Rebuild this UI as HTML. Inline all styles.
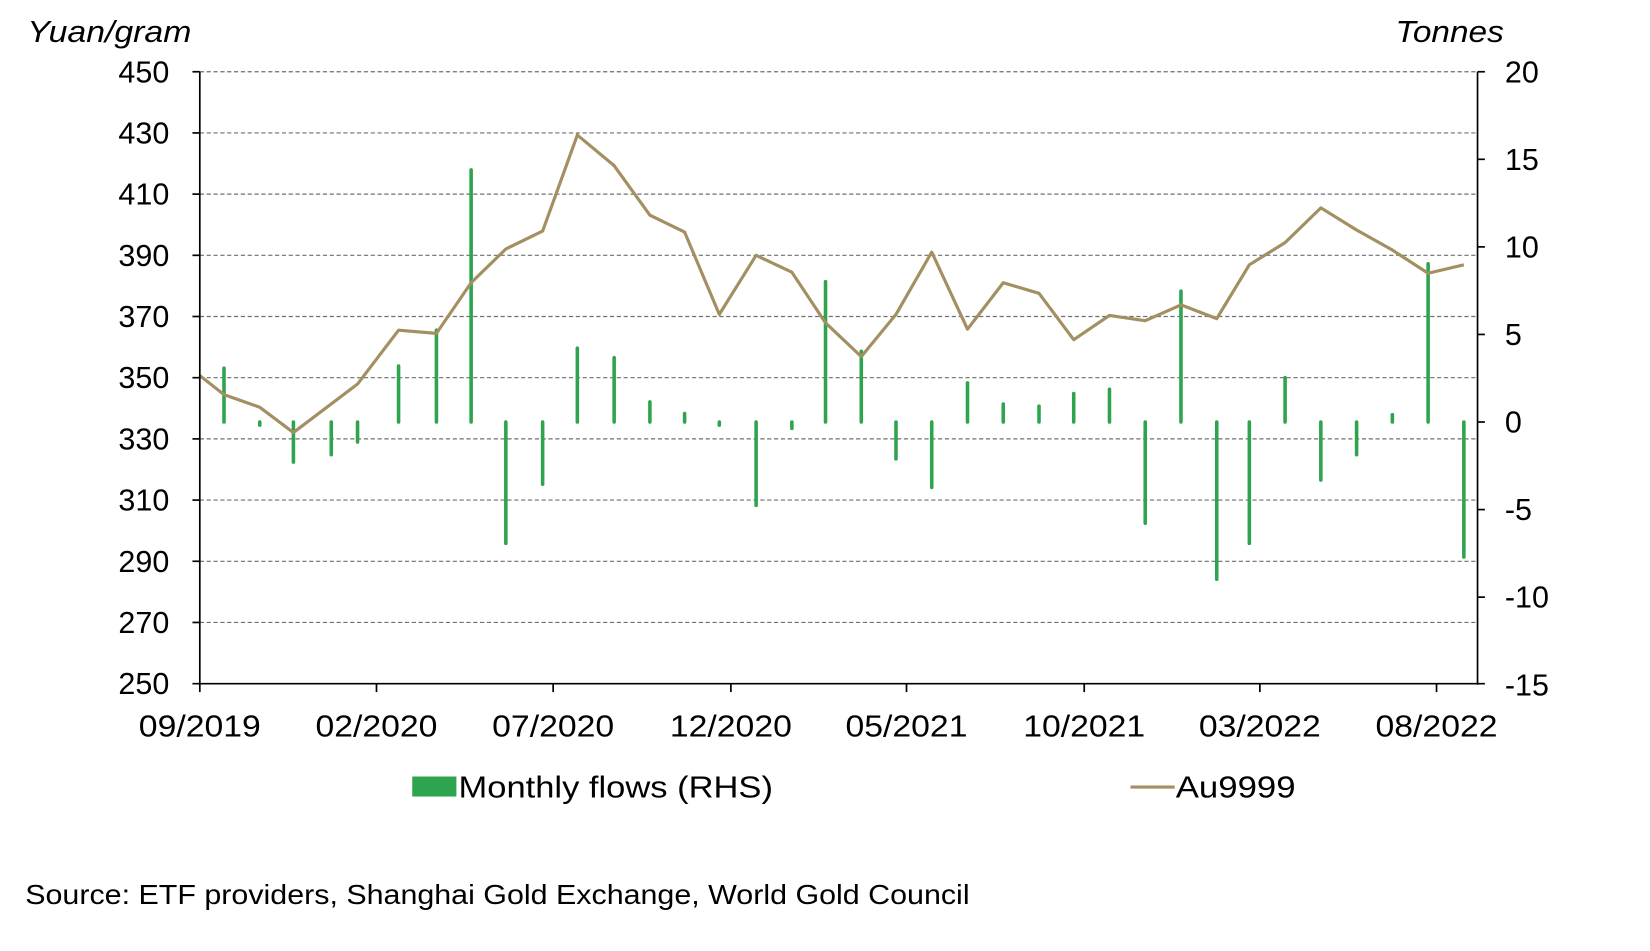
<!DOCTYPE html>
<html><head><meta charset="utf-8"><style>
html,body{margin:0;padding:0;background:#fff;}
svg{display:block;}
text{font-family:"Liberation Sans",Arial,sans-serif;fill:#000;}
</style></head><body>
<svg width="1650" height="951" viewBox="0 0 1569 901.4" preserveAspectRatio="none" xmlns="http://www.w3.org/2000/svg">
<g stroke="#6f6f6f" stroke-width="1.1" stroke-dasharray="4,2.5">
<line x1="190" y1="68" x2="1405" y2="68"/>
<line x1="190" y1="126" x2="1405" y2="126"/>
<line x1="190" y1="184" x2="1405" y2="184"/>
<line x1="190" y1="242" x2="1405" y2="242"/>
<line x1="190" y1="300" x2="1405" y2="300"/>
<line x1="190" y1="358" x2="1405" y2="358"/>
<line x1="190" y1="416" x2="1405" y2="416"/>
<line x1="190" y1="474" x2="1405" y2="474"/>
<line x1="190" y1="532" x2="1405" y2="532"/>
<line x1="190" y1="590" x2="1405" y2="590"/>
</g>
<g stroke="#2ea44f" stroke-width="3.4" stroke-linecap="round">
<line x1="213" y1="400" x2="213" y2="349"/>
<line x1="247" y1="400" x2="247" y2="403"/>
<line x1="279" y1="400" x2="279" y2="438"/>
<line x1="315" y1="400" x2="315" y2="431"/>
<line x1="340" y1="400" x2="340" y2="419"/>
<line x1="379" y1="400" x2="379" y2="347"/>
<line x1="415" y1="400" x2="415" y2="313"/>
<line x1="448" y1="400" x2="448" y2="161"/>
<line x1="481" y1="400" x2="481" y2="515"/>
<line x1="516" y1="400" x2="516" y2="459"/>
<line x1="549" y1="400" x2="549" y2="330"/>
<line x1="584" y1="400" x2="584" y2="339"/>
<line x1="618" y1="400" x2="618" y2="381"/>
<line x1="651" y1="400" x2="651" y2="392"/>
<line x1="684" y1="400" x2="684" y2="403"/>
<line x1="719" y1="400" x2="719" y2="479"/>
<line x1="753" y1="400" x2="753" y2="406"/>
<line x1="785" y1="400" x2="785" y2="267"/>
<line x1="819" y1="400" x2="819" y2="333"/>
<line x1="852" y1="400" x2="852" y2="435"/>
<line x1="886" y1="400" x2="886" y2="462"/>
<line x1="920" y1="400" x2="920" y2="363"/>
<line x1="954" y1="400" x2="954" y2="383"/>
<line x1="988" y1="400" x2="988" y2="385"/>
<line x1="1021" y1="400" x2="1021" y2="373"/>
<line x1="1055" y1="400" x2="1055" y2="369"/>
<line x1="1089" y1="400" x2="1089" y2="496"/>
<line x1="1123" y1="400" x2="1123" y2="276"/>
<line x1="1157" y1="400" x2="1157" y2="549"/>
<line x1="1188" y1="400" x2="1188" y2="515"/>
<line x1="1222" y1="400" x2="1222" y2="358"/>
<line x1="1256" y1="400" x2="1256" y2="455"/>
<line x1="1290" y1="400" x2="1290" y2="431"/>
<line x1="1324" y1="400" x2="1324" y2="393"/>
<line x1="1358" y1="400" x2="1358" y2="250"/>
<line x1="1392" y1="400" x2="1392" y2="528"/>
</g>
<polyline fill="none" stroke="#a38f62" stroke-width="3" stroke-linejoin="round" points="190,356 213,374 247,386 279,410 340,364 379,313 415,316 448,268 481,236 516,219 549,128 584,157 618,204 651,220 684,298 719,242 753,258 785,306 819,338 852,298 886,239 920,312 954,268 988,278 1021,322 1055,299 1089,304 1123,289 1157,302 1188,251 1222,230 1256,197 1290,218 1324,237 1358,259 1392,251"/>
<g stroke="#000" stroke-width="1.6" fill="none">
<line x1="190" y1="68" x2="190" y2="649"/>
<line x1="1405" y1="68" x2="1405" y2="649"/>
<line x1="183" y1="648" x2="1412" y2="648"/>
<line x1="183" y1="68" x2="190" y2="68"/><line x1="183" y1="126" x2="190" y2="126"/><line x1="183" y1="184" x2="190" y2="184"/><line x1="183" y1="242" x2="190" y2="242"/><line x1="183" y1="300" x2="190" y2="300"/><line x1="183" y1="358" x2="190" y2="358"/><line x1="183" y1="416" x2="190" y2="416"/><line x1="183" y1="474" x2="190" y2="474"/><line x1="183" y1="532" x2="190" y2="532"/><line x1="183" y1="590" x2="190" y2="590"/>
<line x1="1405" y1="68" x2="1412" y2="68"/><line x1="1405" y1="151" x2="1412" y2="151"/><line x1="1405" y1="234" x2="1412" y2="234"/><line x1="1405" y1="317" x2="1412" y2="317"/><line x1="1405" y1="400" x2="1412" y2="400"/><line x1="1405" y1="483" x2="1412" y2="483"/><line x1="1405" y1="566" x2="1412" y2="566"/>
<line x1="190" y1="648" x2="190" y2="656"/><line x1="358" y1="648" x2="358" y2="656"/><line x1="526" y1="648" x2="526" y2="656"/><line x1="695" y1="648" x2="695" y2="656"/><line x1="862" y1="648" x2="862" y2="656"/><line x1="1031" y1="648" x2="1031" y2="656"/><line x1="1198" y1="648" x2="1198" y2="656"/><line x1="1366" y1="648" x2="1366" y2="656"/>
</g>
<g font-size="29" text-anchor="end">
<text x="161" y="78">450</text><text x="161" y="136">430</text><text x="161" y="194">410</text><text x="161" y="252">390</text><text x="161" y="310">370</text><text x="161" y="368">350</text><text x="161" y="426">330</text><text x="161" y="484">310</text><text x="161" y="542">290</text><text x="161" y="600">270</text><text x="161" y="658">250</text>
</g>
<g font-size="29" text-anchor="start">
<text x="1431" y="78">20</text><text x="1431" y="161">15</text><text x="1431" y="244">10</text><text x="1431" y="327">5</text><text x="1431" y="410">0</text><text x="1431" y="493">-5</text><text x="1431" y="576">-10</text><text x="1431" y="659">-15</text>
</g>
<g font-size="29" text-anchor="middle" lengthAdjust="spacingAndGlyphs">
<text x="190" y="698" textLength="116" lengthAdjust="spacingAndGlyphs">09/2019</text><text x="358" y="698" textLength="116" lengthAdjust="spacingAndGlyphs">02/2020</text><text x="526" y="698" textLength="116" lengthAdjust="spacingAndGlyphs">07/2020</text><text x="695" y="698" textLength="116" lengthAdjust="spacingAndGlyphs">12/2020</text><text x="862" y="698" textLength="116" lengthAdjust="spacingAndGlyphs">05/2021</text><text x="1031" y="698" textLength="116" lengthAdjust="spacingAndGlyphs">10/2021</text><text x="1198" y="698" textLength="116" lengthAdjust="spacingAndGlyphs">03/2022</text><text x="1366" y="698" textLength="116" lengthAdjust="spacingAndGlyphs">08/2022</text>
</g>
<text x="26" y="40" font-size="29" font-style="italic" textLength="156" lengthAdjust="spacingAndGlyphs">Yuan/gram</text>
<text x="1327" y="40" font-size="29" font-style="italic" textLength="103" lengthAdjust="spacingAndGlyphs">Tonnes</text>
<rect x="392" y="736" width="42" height="19" fill="#2ea44f"/>
<text x="436" y="756" font-size="29" textLength="299" lengthAdjust="spacingAndGlyphs">Monthly flows (RHS)</text>
<line x1="1075" y1="746" x2="1117" y2="746" stroke="#a38f62" stroke-width="3"/>
<text x="1118" y="756" font-size="29" textLength="114" lengthAdjust="spacingAndGlyphs">Au9999</text>
<text x="24" y="857" font-size="26" textLength="898" lengthAdjust="spacingAndGlyphs">Source: ETF providers, Shanghai Gold Exchange,  World Gold Council</text>
</svg>
</body></html>
